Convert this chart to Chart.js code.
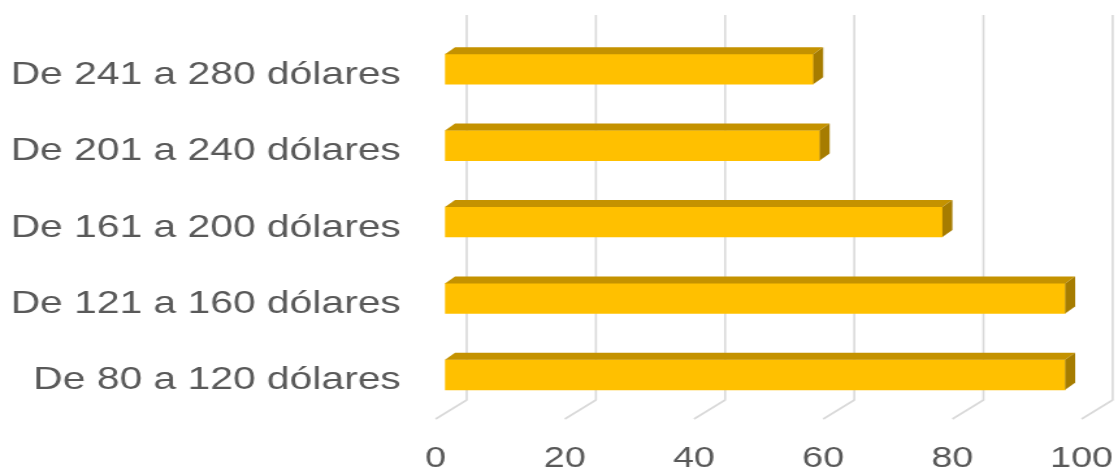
<!DOCTYPE html>
<html>
<head>
<meta charset="utf-8">
<script src="https://cdn.jsdelivr.net/npm/chart.js@4.4.1/dist/chart.umd.min.js"></script>
<style>
  html, body { margin: 0; padding: 0; background: #ffffff; overflow: hidden; }
  #c { display: block; width: 1118px !important; height: 474px !important; }
</style>
</head>
<body>
<canvas id="c" width="860" height="474" style="width:1118px;height:474px"></canvas>
<script>
// ---- data ----
const categories = [
  "De 80 a 120 dólares",
  "De 121 a 160 dólares",
  "De 161 a 200 dólares",
  "De 201 a 240 dólares",
  "De 241 a 280 dólares"
];
const values = [96, 96, 77, 58, 57];
const xTickValues = [0, 20, 40, 60, 80, 100];

// ---- 3D look (offsets in chart's logical pixels) ----
const BAR_DX = 7.7, BAR_DY = -7;      // bar back face offset
const BACK_DX = 16.7, BACK_DY = -13;  // back wall (gridlines) offset
const FLOOR_DX = -7.2, FLOOR_DY = 6;  // front edge of floor offset

const depth3d = {
  id: 'depth3d',
  beforeDatasetsDraw(chart) {
    const { ctx, chartArea: a, scales: { x } } = chart;
    ctx.save();
    ctx.strokeStyle = '#D9D9D9';
    ctx.lineWidth = 1.6;
    ctx.lineJoin = 'round';
    x.ticks.forEach(t => {
      const px = x.getPixelForValue(t.value);
      ctx.beginPath();
      ctx.moveTo(px + BACK_DX, a.top - 16);
      ctx.lineTo(px + BACK_DX, a.bottom + BACK_DY);
      ctx.lineTo(px + FLOOR_DX, a.bottom + FLOOR_DY);
      ctx.stroke();
    });
    ctx.restore();
  },
  afterDatasetsDraw(chart) {
    const { ctx } = chart;
    const meta = chart.getDatasetMeta(0);
    ctx.save();
    meta.data.forEach(bar => {
      const p = bar.getProps(['x', 'y', 'base', 'height'], true);
      const top = p.y - p.height / 2, bottom = p.y + p.height / 2;
      const left = Math.min(p.base, p.x), right = Math.max(p.base, p.x);
      // top face
      ctx.fillStyle = '#C49200';
      ctx.beginPath();
      ctx.moveTo(left, top);
      ctx.lineTo(left + BAR_DX, top + BAR_DY);
      ctx.lineTo(right + BAR_DX, top + BAR_DY);
      ctx.lineTo(right, top);
      ctx.closePath();
      ctx.fill();
      // side face
      ctx.fillStyle = '#A67C00';
      ctx.beginPath();
      ctx.moveTo(right, top);
      ctx.lineTo(right + BAR_DX, top + BAR_DY);
      ctx.lineTo(right + BAR_DX, bottom + BAR_DY);
      ctx.lineTo(right, bottom);
      ctx.closePath();
      ctx.fill();
    });
    ctx.restore();
  }
};

new Chart(document.getElementById('c'), {
  type: 'bar',
  data: {
    labels: categories,
    datasets: [{
      data: values,
      backgroundColor: '#FFC000',
      borderWidth: 0,
      barThickness: 30
    }]
  },
  options: {
    indexAxis: 'y',
    responsive: false,
    animation: false,
    devicePixelRatio: 1,
    layout: { padding: { top: 31, right: 20.8, left: 0, bottom: 0 } },
    plugins: { legend: { display: false }, tooltip: { enabled: false } },
    scales: {
      x: {
        type: 'linear',
        min: xTickValues[0],
        max: xTickValues[xTickValues.length - 1],
        afterBuildTicks(scale) {
          scale.ticks = xTickValues.map(v => ({ value: v }));
        },
        grid: { display: false, drawTicks: false, tickLength: 0 },
        border: { display: false },
        ticks: {
          color: '#595959',
          font: { family: "'Liberation Sans', Arial, sans-serif", size: 29 },
          padding: 29,
          labelOffset: FLOOR_DX,
          maxRotation: 0,
          autoSkip: false
        },
        afterFit(scale) {
          scale.height = 61;
          scale.paddingLeft = 0;
          scale.paddingRight = 0;
        }
      },
      y: {
        reverse: true,
        grid: { display: false, drawTicks: false, tickLength: 0 },
        border: { display: false },
        ticks: {
          color: '#595959',
          font: { family: "'Liberation Sans', Arial, sans-serif", size: 31.4 },
          padding: 34,
          labelOffset: 6,
          autoSkip: false
        },
        afterFit(scale) {
          scale.width = 342.3;
          scale.paddingTop = 0;
          scale.paddingBottom = 0;
        }
      }
    }
  },
  plugins: [depth3d]
});
</script>
</body>
</html>
